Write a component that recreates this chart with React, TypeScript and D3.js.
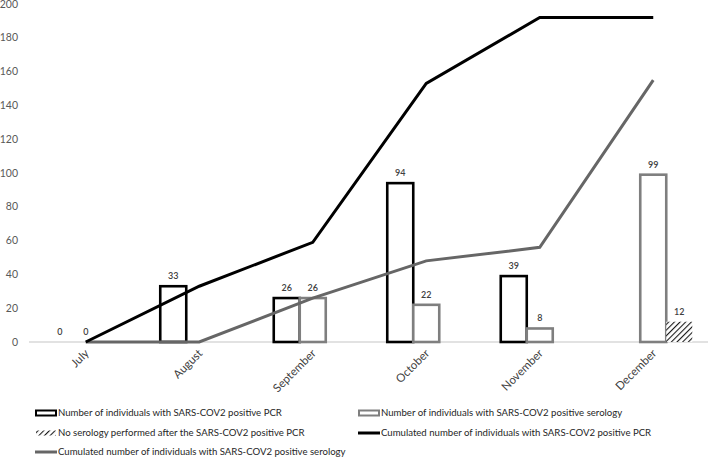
import React, { useEffect, useRef } from "react";
import * as d3 from "d3";

const months = ["July", "August", "September", "October", "November", "December"];
const pcrCounts = [0, 33, 26, 94, 39, null];
const serologyCounts = [0, null, 26, 22, 8, 99];
const noSerologyCounts = [null, null, null, null, null, 12];
const cumulatedPcr = [0, 33, 59, 153, 192, 192];
const cumulatedSerology = [0, 0, 26, 48, 56, 155];
const yTicks = [0, 20, 40, 60, 80, 100, 120, 140, 160, 180, 200];

const legendLabels = [
  "Number of individuals with SARS-COV2 positive PCR",
  "Number of individuals with SARS-COV2 positive serology",
  "No serology performed after the SARS-COV2 positive PCR",
  "Cumulated number of individuals with SARS-COV2 positive PCR",
  "Cumulated number of individuals with SARS-COV2 positive serology",
];

const FONT = "Lato, 'Open Sans', sans-serif";

const App = () => {
  const ref = useRef<SVGSVGElement>(null);

  useEffect(() => {
    const width = 708;
    const svg = d3.select(ref.current);
    svg.selectAll("*").remove();

    const defs = svg.append("defs");
    const pat = defs
      .append("pattern")
      .attr("id", "hatch")
      .attr("patternUnits", "userSpaceOnUse")
      .attr("width", 4)
      .attr("height", 4)
      .attr("patternTransform", "rotate(45)");
    pat.append("rect").attr("width", 4).attr("height", 4).attr("fill", "white");
    pat
      .append("line")
      .attr("x1", 0)
      .attr("y1", 0)
      .attr("x2", 0)
      .attr("y2", 4)
      .attr("stroke", "#1a1a1a")
      .attr("stroke-width", 2.2);

    let x = d3.scaleBand().domain(months).range([29, 710]);
    let y = d3.scaleLinear().domain([0, 200]).range([342, 4]);
    let series = ["pcr", "sero", "none"];
    let xInner = d3.scaleBand().domain(series).range([-39, 39]);
    let center = (m) => (x(m) as number) + x.bandwidth() / 2;

    // y labels
    svg
      .append("g")
      .selectAll("text")
      .data(yTicks)
      .enter()
      .append("text")
      .attr("x", 18)
      .attr("y", (d) => y(d))
      .attr("dy", "0.35em")
      .attr("text-anchor", "end")
      .attr("font-family", FONT)
      .attr("font-size", 10.5)
      .attr("fill", "#595959")
      .text((d) => d);

    // baseline
    svg
      .append("line")
      .attr("x1", 29)
      .attr("x2", width)
      .attr("y1", y(0))
      .attr("y2", y(0))
      .attr("stroke", "#d9d9d9")
      .attr("stroke-width", 1.5);

    // x labels
    svg
      .append("g")
      .selectAll("text")
      .data(months)
      .enter()
      .append("text")
      .attr("transform", (d) => "translate(" + (center(d) + 4) + "," + 354 + ") rotate(-45)")
      .attr("text-anchor", "end")
      .attr("font-family", FONT)
      .attr("font-size", 11.5)
      .attr("fill", "#404040")
      .text((d) => d);

    // bars
    let barSets = [
      { key: "pcr", values: pcrCounts, stroke: "#000000", fill: "white" },
      { key: "sero", values: serologyCounts, stroke: "#7f7f7f", fill: "white" },
      { key: "none", values: noSerologyCounts, stroke: "#404040", fill: "url(#hatch)" },
    ];
    barSets.forEach((s) => {
      let data = months
        .map((m, i) => ({ m, v: s.values[i] }))
        .filter((d) => d.v !== null);
      let g = svg.append("g");
      g.selectAll("rect")
        .data(data.filter((d) => d.v > 0))
        .enter()
        .append("rect")
        .attr("x", (d) => center(d.m) + (xInner(s.key) as number))
        .attr("width", xInner.bandwidth())
        .attr("y", (d) => y(d.v))
        .attr("height", (d) => y(0) - y(d.v))
        .attr("fill", s.fill)
        .attr("stroke", s.key === "none" ? "none" : s.stroke)
        .attr("stroke-width", 2.6);
      g.selectAll("text")
        .data(data)
        .enter()
        .append("text")
        .attr("x", (d) => center(d.m) + (xInner(s.key) as number) + xInner.bandwidth() / 2)
        .attr("y", (d) => y(d.v) - 7)
        .attr("text-anchor", "middle")
        .attr("font-family", FONT)
        .attr("font-size", 9)
        .attr("font-weight", 600)
        .attr("fill", "#404040")
        .text((d) => d.v);
    });

    // cumulative lines
    let line = d3
      .line<number>()
      .x((d, i) => center(months[i]))
      .y((d) => y(d));
    svg
      .append("path")
      .attr("d", line(cumulatedSerology))
      .attr("fill", "none")
      .attr("stroke", "#666666")
      .attr("stroke-width", 3);
    svg
      .append("path")
      .attr("d", line(cumulatedPcr))
      .attr("fill", "none")
      .attr("stroke", "#000000")
      .attr("stroke-width", 3);

    // legend
    let legendItems = [
      { type: "bar", stroke: "#000000", fill: "white", col: 0, row: 0 },
      { type: "bar", stroke: "#7f7f7f", fill: "white", col: 1, row: 0 },
      { type: "hatch", stroke: "none", fill: "url(#hatch)", col: 0, row: 1 },
      { type: "line", stroke: "#000000", col: 1, row: 1 },
      { type: "line", stroke: "#666666", col: 0, row: 2 },
    ];
    let colX = [35, 358];
    let rowY = [413, 433, 452];
    legendItems.forEach((it, i) => {
      let lx = colX[it.col];
      let ly = rowY[it.row];
      let g = svg.append("g").attr("transform", "translate(" + lx + "," + ly + ")");
      if (it.type === "line") {
        g.append("line")
          .attr("x1", 0)
          .attr("x2", 22)
          .attr("y1", 0)
          .attr("y2", 0)
          .attr("stroke", it.stroke)
          .attr("stroke-width", 3);
      } else {
        g.append("rect")
          .attr("x", 1)
          .attr("y", -2.5)
          .attr("width", 20)
          .attr("height", 5)
          .attr("fill", it.fill)
          .attr("stroke", it.stroke)
          .attr("stroke-width", 2);
      }
      g.append("text")
        .attr("x", 23)
        .attr("y", 0)
        .attr("dy", "0.35em")
        .attr("font-family", FONT)
        .attr("font-size", 9.6)
        .attr("fill", "#262626")
        .text(legendLabels[i]);
    });
  }, []);

  return (
    <svg
      ref={ref}
      width={708}
      height={458}
      style={{ position: "absolute", left: 0, top: 0, background: "white" }}
    />
  );
};

export default App;
